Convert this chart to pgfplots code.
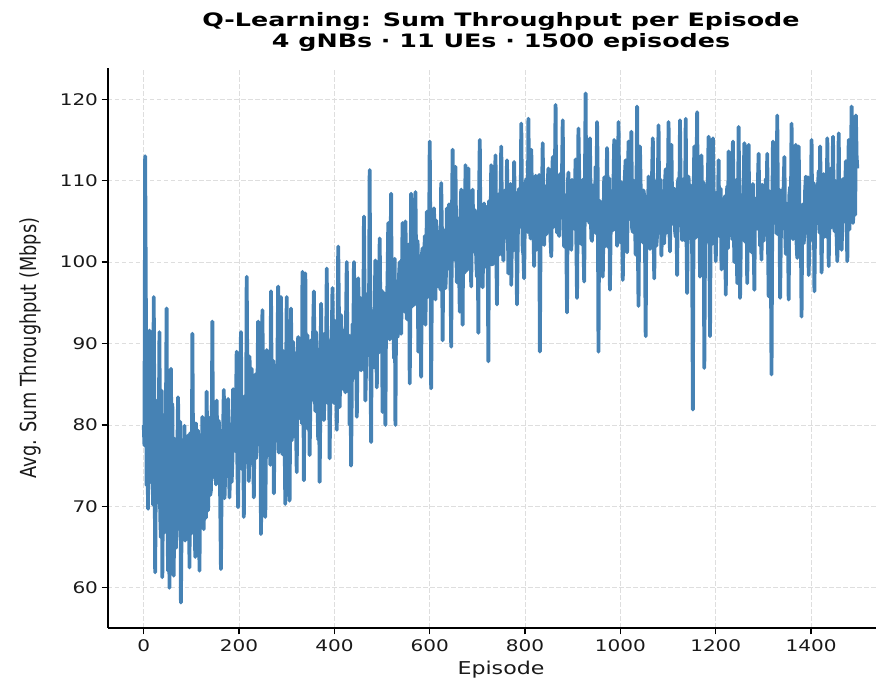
\documentclass[border=0pt]{standalone}
\usepackage{fontspec}
\setmainfont{DejaVu Sans}[FakeStretch=1.25]
\newfontfamily\plainfont{DejaVu Sans}
\newfontfamily\titlefont{DejaVu Sans}[FakeStretch=1.37]
\usepackage{graphicx}
\usepackage{pgfplots}
\usepackage{pgfplotstable}
\pgfplotsset{compat=1.18}
\definecolor{steel}{RGB}{70,130,180}
\pgfplotstableread[row sep=\\]{
x y\\
0 80.0\\ 1.5 77.5\\ 3 113.0\\ 4.5 95.0\\ 6 72.6\\ 7.5 80.3\\ 9 69.7\\ 10.5 84.8\\ 12 91.6\\ 13.5 73.0\\ 15 76.4\\ 16.5 88.5\\ 18 81.2\\ 19.5 70.2\\ 21 95.7\\ 22.5 79.6\\ 24 61.9\\ 25.5 74.1\\ 27 78.3\\ 28.5 83.0\\
30 70.5\\ 31.5 78.4\\ 33 91.4\\ 34.5 69.0\\ 36 66.2\\ 37.5 84.2\\ 39 61.3\\ 40.5 72.5\\ 42 81.2\\ 43.5 66.8\\ 45 73.8\\ 46.5 80.1\\ 48 94.3\\ 49.5 71.3\\ 51 62.1\\ 52.5 77.9\\ 54 60.0\\ 55.5 68.4\\ 57 86.9\\ 58.5 74.6\\
60 82.6\\ 61.5 70.8\\ 63 61.5\\ 64.5 78.3\\ 66 75.1\\ 67.5 64.9\\ 69 68.3\\ 70.5 76.2\\ 72 83.4\\ 73.5 72.0\\ 75 70.2\\ 76.5 80.4\\ 78 58.2\\ 79.5 68.1\\ 81 77.7\\ 82.5 73.5\\ 84 66.5\\ 85.5 79.9\\ 87 65.8\\ 88.5 71.2\\
90 72.4\\ 91.5 68.0\\ 93 78.7\\ 94.5 75.4\\ 96 62.5\\ 97.5 79.0\\ 99 74.0\\ 100.5 66.7\\ 102 91.2\\ 103.5 77.3\\ 105 70.4\\ 106.5 73.1\\ 108 63.8\\ 109.5 80.2\\ 111 76.5\\ 112.5 69.5\\ 114 79.3\\ 115.5 71.8\\ 117 62.1\\ 118.5 76.9\\
120 74.8\\ 121.5 70.3\\ 123 81.0\\ 124.5 73.9\\ 126 67.2\\ 127.5 79.8\\ 129 76.3\\ 130.5 68.6\\ 132 84.1\\ 133.5 75.7\\ 135 69.5\\ 136.5 80.9\\ 138 78.6\\ 139.5 71.4\\ 141 72.0\\ 142.5 77.0\\ 144 92.7\\ 145.5 73.6\\ 147 75.4\\ 148.5 81.5\\
150 79.5\\ 151.5 72.7\\ 153 83.0\\ 154.5 76.0\\ 156 73.2\\ 157.5 80.5\\ 159 77.8\\ 160.5 70.4\\ 162 62.3\\ 163.5 73.8\\ 165 76.6\\ 166.5 79.1\\ 168 84.3\\ 169.5 71.0\\ 171 74.1\\ 172.5 81.8\\ 174 79.2\\ 175.5 75.5\\ 177 83.2\\ 178.5 77.0\\
180 71.1\\ 181.5 80.1\\ 183 78.4\\ 184.5 73.0\\ 186 75.6\\ 187.5 84.4\\ 189 82.4\\ 190.5 77.3\\ 192 76.8\\ 193.5 82.0\\ 195 89.0\\ 196.5 75.2\\ 198 69.9\\ 199.5 78.9\\ 201 80.5\\ 202.5 85.3\\ 204 91.4\\ 205.5 74.6\\ 207 77.2\\ 208.5 81.7\\
210 68.7\\ 211.5 79.6\\ 213 83.6\\ 214.5 75.4\\ 216 98.2\\ 217.5 84.8\\ 219 79.0\\ 220.5 73.1\\ 222 88.4\\ 223.5 81.5\\ 225 75.3\\ 226.5 86.9\\ 228 83.5\\ 229.5 77.2\\ 231 71.1\\ 232.5 80.8\\ 234 86.2\\ 235.5 75.9\\ 237 80.1\\ 238.5 84.1\\
240 92.7\\ 241.5 80.5\\ 243 77.5\\ 244.5 86.6\\ 246 66.6\\ 247.5 76.0\\ 249 94.1\\ 250.5 82.7\\ 252 79.4\\ 253.5 85.2\\ 255 68.7\\ 256.5 77.7\\ 258 89.2\\ 259.5 81.9\\ 261 76.3\\ 262.5 88.3\\ 264 84.7\\ 265.5 75.1\\ 267 96.4\\ 268.5 83.4\\
270 80.2\\ 271.5 87.9\\ 273 71.6\\ 274.5 79.4\\ 276 85.8\\ 277.5 82.6\\ 279 78.1\\ 280.5 88.0\\ 282 97.0\\ 283.5 76.6\\ 285 82.3\\ 286.5 84.9\\ 288 95.7\\ 289.5 80.3\\ 291 76.4\\ 292.5 89.1\\ 294 86.5\\ 295.5 78.5\\ 297 70.3\\ 298.5 83.8\\
300 95.7\\ 301.5 79.0\\ 303 81.4\\ 304.5 86.8\\ 306 70.7\\ 307.5 83.2\\ 309 94.3\\ 310.5 78.1\\ 312 84.1\\ 313.5 90.2\\ 315 78.6\\ 316.5 82.0\\ 318 88.8\\ 319.5 79.7\\ 321 74.2\\ 322.5 87.5\\ 324 90.8\\ 325.5 80.8\\ 327 82.5\\ 328.5 85.6\\
330 86.4\\ 331.5 80.2\\ 333 98.8\\ 334.5 88.6\\ 336 73.2\\ 337.5 84.7\\ 339 98.6\\ 340.5 79.8\\ 342 84.3\\ 343.5 91.0\\ 345 79.5\\ 346.5 86.1\\ 348 76.3\\ 349.5 82.4\\ 351 90.4\\ 352.5 87.3\\ 354 83.1\\ 355.5 92.0\\ 357 96.4\\ 358.5 85.0\\
360 81.7\\ 361.5 91.4\\ 363 88.9\\ 364.5 83.3\\ 366 78.2\\ 367.5 87.6\\ 369 73.0\\ 370.5 82.1\\ 372 94.9\\ 373.5 86.4\\ 375 85.4\\ 376.5 90.7\\ 378 80.6\\ 379.5 84.9\\ 381 91.3\\ 382.5 88.0\\ 384 99.2\\ 385.5 82.7\\ 387 84.5\\ 388.5 90.3\\
390 75.9\\ 391.5 84.0\\ 393 88.3\\ 394.5 91.2\\ 396 96.8\\ 397.5 86.0\\ 399 82.7\\ 400.5 92.8\\ 402 90.1\\ 403.5 85.3\\ 405 79.4\\ 406.5 88.9\\ 408 101.9\\ 409.5 93.6\\ 411 82.2\\ 412.5 86.9\\ 414 93.5\\ 415.5 89.8\\ 417 86.8\\ 418.5 84.4\\
420 91.6\\ 421.5 87.1\\ 423 84.0\\ 424.5 93.4\\ 426 100.0\\ 427.5 85.6\\ 429 88.2\\ 430.5 91.0\\ 432 80.0\\ 433.5 89.3\\ 435 75.0\\ 436.5 84.8\\ 438 92.4\\ 439.5 87.7\\ 441 100.0\\ 442.5 92.5\\ 444 85.7\\ 445.5 90.1\\ 447 81.0\\ 448.5 88.2\\
450 98.0\\ 451.5 91.3\\ 453 89.4\\ 454.5 95.6\\ 456 86.7\\ 457.5 88.0\\ 459 94.3\\ 460.5 90.5\\ 462 105.6\\ 463.5 93.9\\ 465 83.0\\ 466.5 87.2\\ 468 91.8\\ 469.5 96.1\\ 471 88.6\\ 472.5 92.4\\ 474 111.3\\ 475.5 89.7\\ 477 77.9\\ 478.5 94.0\\
480 92.5\\ 481.5 90.6\\ 483 87.1\\ 484.5 94.8\\ 486 100.2\\ 487.5 92.1\\ 489 84.6\\ 490.5 97.4\\ 492 95.3\\ 493.5 88.9\\ 495 102.9\\ 496.5 93.7\\ 498 89.7\\ 499.5 96.5\\ 501 81.6\\ 502.5 91.2\\ 504 96.2\\ 505.5 89.5\\ 507 80.0\\ 508.5 95.1\\
510 93.8\\ 511.5 97.9\\ 513 104.8\\ 514.5 93.3\\ 516 90.5\\ 517.5 99.6\\ 519 108.4\\ 520.5 91.6\\ 522 95.1\\ 523.5 96.2\\ 525 88.2\\ 526.5 100.4\\ 528 80.0\\ 529.5 94.1\\ 531 97.6\\ 532.5 90.8\\ 534 92.4\\ 535.5 98.3\\ 537 100.0\\ 538.5 95.0\\
540 91.2\\ 541.5 97.2\\ 543 104.8\\ 544.5 100.8\\ 546 96.3\\ 547.5 93.9\\ 549 105.0\\ 550.5 99.1\\ 552 93.0\\ 553.5 96.7\\ 555 98.7\\ 556.5 102.2\\ 558 85.1\\ 559.5 95.5\\ 561 108.4\\ 562.5 98.6\\ 564 94.6\\ 565.5 101.4\\ 567 101.3\\ 568.5 94.8\\
570 108.6\\ 571.5 99.5\\ 573 95.8\\ 574.5 102.6\\ 576 89.0\\ 577.5 96.9\\ 579 100.4\\ 580.5 94.4\\ 582 85.9\\ 583.5 100.9\\ 585 101.7\\ 586.5 97.3\\ 588 96.5\\ 589.5 103.2\\ 591 92.3\\ 592.5 99.8\\ 594 106.2\\ 595.5 95.7\\ 597 98.4\\ 598.5 101.6\\
600 114.8\\ 601.5 100.2\\ 603 84.5\\ 604.5 97.8\\ 606 99.1\\ 607.5 103.5\\ 609 106.6\\ 610.5 99.9\\ 612 95.4\\ 613.5 105.1\\ 615 102.3\\ 616.5 98.5\\ 618 97.0\\ 619.5 101.9\\ 621 103.8\\ 622.5 96.6\\ 624 109.7\\ 625.5 104.0\\ 627 90.4\\ 628.5 100.6\\
630 101.5\\ 631.5 103.9\\ 633 96.8\\ 634.5 99.3\\ 636 106.6\\ 637.5 102.0\\ 639 99.2\\ 640.5 107.1\\ 642 104.5\\ 643.5 98.8\\ 645 89.6\\ 646.5 104.4\\ 648 113.8\\ 649.5 100.9\\ 651 100.3\\ 652.5 106.3\\ 654 111.7\\ 655.5 102.5\\ 657 97.5\\ 658.5 105.4\\
660 104.2\\ 661.5 99.6\\ 663 93.9\\ 664.5 105.8\\ 666 108.9\\ 667.5 101.1\\ 669 92.3\\ 670.5 106.9\\ 672 102.6\\ 673.5 98.7\\ 675 111.9\\ 676.5 104.2\\ 678 99.0\\ 679.5 107.6\\ 681 111.5\\ 682.5 100.4\\ 684 104.0\\ 685.5 103.3\\ 687 97.0\\ 688.5 106.0\\
690 108.9\\ 691.5 102.7\\ 693 101.3\\ 694.5 106.4\\ 696 105.6\\ 697.5 100.3\\ 699 98.2\\ 700.5 104.9\\ 702 91.3\\ 703.5 108.1\\ 705 115.0\\ 706.5 101.6\\ 708 102.4\\ 709.5 105.2\\ 711 96.9\\ 712.5 103.0\\ 714 107.2\\ 715.5 99.4\\ 717 100.6\\ 718.5 106.8\\
720 104.1\\ 721.5 101.8\\ 723 87.8\\ 724.5 107.5\\ 726 106.5\\ 727.5 103.6\\ 729 111.9\\ 730.5 99.7\\ 732 99.8\\ 733.5 106.0\\ 735 104.7\\ 736.5 109.2\\ 738 113.1\\ 739.5 102.4\\ 741 94.8\\ 742.5 105.7\\ 744 108.3\\ 745.5 100.9\\ 747 101.2\\ 748.5 107.9\\
750 114.2\\ 751.5 105.5\\ 753 101.7\\ 754.5 100.2\\ 756 107.4\\ 757.5 108.8\\ 759 103.0\\ 760.5 104.1\\ 762 112.5\\ 763.5 106.9\\ 765 98.6\\ 766.5 102.3\\ 768 106.2\\ 769.5 109.6\\ 771 97.2\\ 772.5 103.8\\ 774 109.1\\ 775.5 101.4\\ 777 112.3\\ 778.5 107.0\\
780 103.5\\ 781.5 106.7\\ 783 94.8\\ 784.5 102.1\\ 786 108.0\\ 787.5 109.0\\ 789 104.3\\ 790.5 104.6\\ 792 117.0\\ 793.5 107.8\\ 795 101.6\\ 796.5 100.9\\ 798 98.0\\ 799.5 105.3\\ 801 109.5\\ 802.5 110.2\\ 804 106.1\\ 805.5 103.7\\ 807 117.6\\ 808.5 108.4\\
810 104.4\\ 811.5 102.9\\ 813 113.8\\ 814.5 107.6\\ 816 107.2\\ 817.5 104.0\\ 819 99.5\\ 820.5 109.4\\ 822 110.6\\ 823.5 101.5\\ 825 103.2\\ 826.5 106.3\\ 828 108.4\\ 829.5 110.7\\ 831 89.0\\ 832.5 103.1\\ 834 106.9\\ 835.5 108.0\\ 837 114.6\\ 838.5 105.2\\
840 102.1\\ 841.5 107.7\\ 843 109.3\\ 844.5 103.4\\ 846 104.8\\ 847.5 109.9\\ 849 111.5\\ 850.5 105.0\\ 852 106.2\\ 853.5 102.6\\ 855 100.7\\ 856.5 108.5\\ 858 112.9\\ 859.5 104.3\\ 861 107.0\\ 862.5 110.4\\ 864 119.3\\ 865.5 106.1\\ 867 103.6\\ 868.5 108.9\\
870 104.4\\ 871.5 103.2\\ 873 110.8\\ 874.5 108.0\\ 876 106.3\\ 877.5 110.9\\ 879 117.4\\ 880.5 104.7\\ 882 101.9\\ 883.5 107.1\\ 885 108.2\\ 886.5 102.8\\ 888 93.8\\ 889.5 109.5\\ 891 111.0\\ 892.5 105.9\\ 894 105.5\\ 895.5 103.6\\ 897 101.5\\ 898.5 110.1\\
900 109.7\\ 901.5 105.4\\ 903 104.1\\ 904.5 108.7\\ 906 112.6\\ 907.5 103.0\\ 909 95.6\\ 910.5 107.9\\ 912 116.4\\ 913.5 110.6\\ 915 106.8\\ 916.5 104.5\\ 918 102.2\\ 919.5 106.8\\ 921 110.1\\ 922.5 102.1\\ 924 97.6\\ 925.5 109.3\\ 927 120.7\\ 928.5 105.1\\
930 106.0\\ 931.5 110.4\\ 933 108.9\\ 934.5 104.8\\ 936 115.2\\ 937.5 107.3\\ 939 102.9\\ 940.5 102.6\\ 942 109.4\\ 943.5 108.8\\ 945 104.0\\ 946.5 106.0\\ 948 111.7\\ 949.5 103.5\\ 951 117.2\\ 952.5 109.9\\ 954 89.0\\ 955.5 105.7\\ 957 107.5\\ 958.5 102.9\\
960 103.3\\ 961.5 107.0\\ 963 98.2\\ 964.5 104.4\\ 966 110.4\\ 967.5 101.9\\ 969 105.1\\ 970.5 108.2\\ 972 114.0\\ 973.5 105.6\\ 975 101.8\\ 976.5 110.3\\ 978 96.6\\ 979.5 103.8\\ 981 108.7\\ 982.5 106.5\\ 984 103.9\\ 985.5 109.7\\ 987 115.0\\ 988.5 104.0\\
990 106.4\\ 991.5 109.2\\ 993 102.0\\ 994.5 105.5\\ 996 117.2\\ 997.5 108.6\\ 999 104.6\\ 1000.5 102.4\\ 1002 109.8\\ 1003.5 106.9\\ 1005 97.8\\ 1006.5 104.1\\ 1008 107.1\\ 1009.5 110.8\\ 1011 112.5\\ 1012.5 103.3\\ 1014 101.2\\ 1015.5 107.7\\ 1017 114.8\\ 1018.5 105.9\\
1020 105.3\\ 1021.5 108.3\\ 1023 116.0\\ 1024.5 104.2\\ 1026 103.7\\ 1027.5 110.0\\ 1029 108.6\\ 1030.5 105.4\\ 1032 100.9\\ 1033.5 107.5\\ 1035 119.1\\ 1036.5 102.8\\ 1038 94.6\\ 1039.5 106.6\\ 1041 114.2\\ 1042.5 109.1\\ 1044 106.0\\ 1045.5 103.9\\ 1047 102.4\\ 1048.5 108.8\\
1050 108.1\\ 1051.5 103.1\\ 1053 90.9\\ 1054.5 106.7\\ 1056 104.5\\ 1057.5 102.5\\ 1059 110.5\\ 1060.5 108.6\\ 1062 101.6\\ 1063.5 105.2\\ 1065 107.3\\ 1066.5 110.9\\ 1068 115.2\\ 1069.5 104.0\\ 1071 98.0\\ 1072.5 107.4\\ 1074 109.9\\ 1075.5 102.0\\ 1077 103.4\\ 1078.5 109.6\\
1080 116.8\\ 1081.5 106.4\\ 1083 105.2\\ 1084.5 110.1\\ 1086 100.8\\ 1087.5 104.7\\ 1089 108.7\\ 1090.5 107.2\\ 1092 102.3\\ 1093.5 109.8\\ 1095 111.4\\ 1096.5 103.6\\ 1098 106.2\\ 1099.5 108.3\\ 1101 117.2\\ 1102.5 105.0\\ 1104 101.3\\ 1105.5 110.5\\ 1107 114.4\\ 1108.5 106.9\\
1110 104.7\\ 1111.5 108.6\\ 1113 109.0\\ 1114.5 103.9\\ 1116 103.1\\ 1117.5 106.2\\ 1119 98.4\\ 1120.5 109.7\\ 1122 110.3\\ 1123.5 104.5\\ 1125 117.4\\ 1126.5 107.9\\ 1128 105.6\\ 1129.5 102.7\\ 1131 108.9\\ 1132.5 110.2\\ 1134 102.7\\ 1135.5 106.0\\ 1137 117.6\\ 1138.5 104.3\\
1140 96.2\\ 1141.5 105.8\\ 1143 110.5\\ 1144.5 102.9\\ 1146 104.3\\ 1147.5 109.4\\ 1149 107.9\\ 1150.5 101.0\\ 1152 81.9\\ 1153.5 107.6\\ 1155 114.2\\ 1156.5 104.2\\ 1158 103.0\\ 1159.5 110.0\\ 1161 118.4\\ 1162.5 103.5\\ 1164 106.7\\ 1165.5 108.3\\ 1167 98.2\\ 1168.5 105.7\\
1170 113.1\\ 1171.5 107.3\\ 1173 104.9\\ 1174.5 109.8\\ 1176 87.0\\ 1177.5 101.6\\ 1179 108.4\\ 1180.5 105.1\\ 1182 102.6\\ 1183.5 110.3\\ 1185 115.4\\ 1186.5 103.7\\ 1188 90.9\\ 1189.5 106.9\\ 1191 107.0\\ 1192.5 102.2\\ 1194 115.2\\ 1195.5 108.7\\ 1197 103.8\\ 1198.5 106.5\\
1200 100.1\\ 1201.5 104.6\\ 1203 108.6\\ 1204.5 106.3\\ 1206 112.5\\ 1207.5 103.2\\ 1209 104.0\\ 1210.5 109.0\\ 1212 99.1\\ 1213.5 105.9\\ 1215 107.7\\ 1216.5 102.4\\ 1218 102.5\\ 1219.5 108.1\\ 1221 96.0\\ 1222.5 104.8\\ 1224 109.3\\ 1225.5 101.7\\ 1227 113.6\\ 1228.5 107.5\\
1230 103.9\\ 1231.5 109.6\\ 1233 107.4\\ 1234.5 102.8\\ 1236 114.8\\ 1237.5 106.8\\ 1239 100.0\\ 1240.5 104.2\\ 1242 106.1\\ 1243.5 110.1\\ 1245 97.4\\ 1246.5 103.4\\ 1248 116.6\\ 1249.5 107.0\\ 1251 95.6\\ 1252.5 101.9\\ 1254 108.2\\ 1255.5 105.6\\ 1257 103.0\\ 1258.5 109.3\\
1260 114.6\\ 1261.5 102.5\\ 1263 104.3\\ 1264.5 108.4\\ 1266 97.4\\ 1267.5 105.0\\ 1269 114.4\\ 1270.5 103.1\\ 1272 105.9\\ 1273.5 109.1\\ 1275 101.2\\ 1276.5 106.2\\ 1278 109.6\\ 1279.5 102.9\\ 1281 96.6\\ 1282.5 107.8\\ 1284 106.8\\ 1285.5 104.5\\ 1287 104.1\\ 1288.5 110.0\\
1290 113.3\\ 1291.5 106.0\\ 1293 102.0\\ 1294.5 104.4\\ 1296 100.3\\ 1297.5 109.5\\ 1299 108.5\\ 1300.5 102.6\\ 1302 104.6\\ 1303.5 107.2\\ 1305 110.2\\ 1306.5 105.3\\ 1308 113.3\\ 1309.5 103.0\\ 1311 95.8\\ 1312.5 108.7\\ 1314 106.4\\ 1315.5 101.8\\ 1317 86.2\\ 1318.5 104.9\\
1320 114.8\\ 1321.5 107.8\\ 1323 105.1\\ 1324.5 110.2\\ 1326 109.6\\ 1327.5 103.5\\ 1329 118.0\\ 1330.5 106.4\\ 1332 103.3\\ 1333.5 108.9\\ 1335 95.6\\ 1336.5 102.7\\ 1338 108.8\\ 1339.5 105.9\\ 1341 104.2\\ 1342.5 109.4\\ 1344 112.9\\ 1345.5 104.1\\ 1347 101.0\\ 1348.5 107.2\\
1350 106.7\\ 1351.5 103.6\\ 1353 95.4\\ 1354.5 108.3\\ 1356 109.2\\ 1357.5 105.2\\ 1359 117.0\\ 1360.5 110.6\\ 1362 102.8\\ 1363.5 104.0\\ 1365 107.9\\ 1366.5 107.5\\ 1368 114.4\\ 1369.5 102.4\\ 1371 100.5\\ 1372.5 109.0\\ 1374 114.2\\ 1375.5 106.6\\ 1377 104.6\\ 1378.5 103.9\\
1380 93.3\\ 1381.5 105.7\\ 1383 107.1\\ 1384.5 102.3\\ 1386 103.5\\ 1387.5 108.8\\ 1389 110.5\\ 1390.5 106.1\\ 1392 104.0\\ 1393.5 110.4\\ 1395 98.4\\ 1396.5 103.8\\ 1398 108.2\\ 1399.5 107.0\\ 1401 115.0\\ 1402.5 104.6\\ 1404 102.6\\ 1405.5 109.7\\ 1407 96.4\\ 1408.5 105.2\\
1410 109.3\\ 1411.5 106.5\\ 1413 104.8\\ 1414.5 109.4\\ 1416 111.2\\ 1417.5 103.6\\ 1419 114.2\\ 1420.5 107.7\\ 1422 98.7\\ 1423.5 104.9\\ 1425 107.5\\ 1426.5 110.8\\ 1428 103.1\\ 1429.5 105.6\\ 1431 109.9\\ 1432.5 103.1\\ 1434 115.2\\ 1435.5 108.2\\ 1437 99.5\\ 1438.5 106.8\\
1440 106.9\\ 1441.5 104.2\\ 1443 111.6\\ 1444.5 108.1\\ 1446 115.4\\ 1447.5 106.7\\ 1449 103.8\\ 1450.5 110.0\\ 1452 108.5\\ 1453.5 103.4\\ 1455 100.1\\ 1456.5 107.9\\ 1458 115.8\\ 1459.5 105.1\\ 1461 106.3\\ 1462.5 109.8\\ 1464 101.5\\ 1465.5 104.6\\ 1467 110.2\\ 1468.5 107.3\\
1470 105.0\\ 1471.5 108.8\\ 1473 112.4\\ 1474.5 105.3\\ 1476 100.1\\ 1477.5 109.7\\ 1479 115.0\\ 1480.5 104.0\\ 1482 108.7\\ 1483.5 111.2\\ 1485 119.1\\ 1486.5 106.5\\ 1488 104.8\\ 1489.5 108.4\\ 1491 110.9\\ 1492.5 105.8\\ 1494 118.0\\ 1495.5 113.0\\ 1497 111.5\\
}\thrtable
\begin{document}
\begin{tikzpicture}
\begin{axis}[
  at={(0,0)}, anchor=south west,
  scale only axis, width=786pt, height=560pt,
  xmin=-74.95, xmax=1573.95, ymin=55.07, ymax=123.83,
  axis x line*=bottom, axis y line*=left,
  axis line style={-, black, line width=1.3pt},
  xtick={0,200,...,1400}, ytick={60,70,...,120},
  tick align=outside, major tick length=6.5pt,
  every tick/.style={black, line width=1.2pt},
  grid=major,
  major grid style={dash pattern=on 4.5pt off 2.5pt, line width=0.9pt, color=black!13},
  /pgf/number format/assume math mode=true,
  /pgf/number format/1000 sep={},
  tick label style={font=\fontsize{16}{19}\selectfont, text=black!90},
  xticklabel style={yshift=-2pt},
  xlabel={Episode},
  ylabel={\plainfont\fontsize{17.7}{21}\selectfont\scalebox{1}[1.25]{Avg. Sum Throughput (Mbps)}},
  xlabel style={font=\fontsize{17.7}{21}\selectfont, text=black!90, at={(axis description cs:0.5,0)}, anchor=base, yshift=-47pt},
  ylabel style={text=black!90, at={(axis description cs:0,0.5)}, anchor=base, yshift=71pt},
]
\addplot[color=steel, line width=3.8pt, line join=round, no markers] table[x=x, y=y] {\thrtable};
\end{axis}
\node[anchor=base, font={\titlefont\fontsize{18.5}{22}\selectfont\bfseries}] at ([yshift=41.4pt]current axis.north) {Q-Learning: Sum Throughput per Episode};
\node[anchor=base, font={\titlefont\fontsize{18.5}{22}\selectfont\bfseries}] at ([yshift=20.7pt]current axis.north) {4 gNBs · 11 UEs · 1500 episodes};
\pgfresetboundingbox
\useasboundingbox (-108pt,-51pt) rectangle (768pt,628pt);
\end{tikzpicture}
\end{document}
